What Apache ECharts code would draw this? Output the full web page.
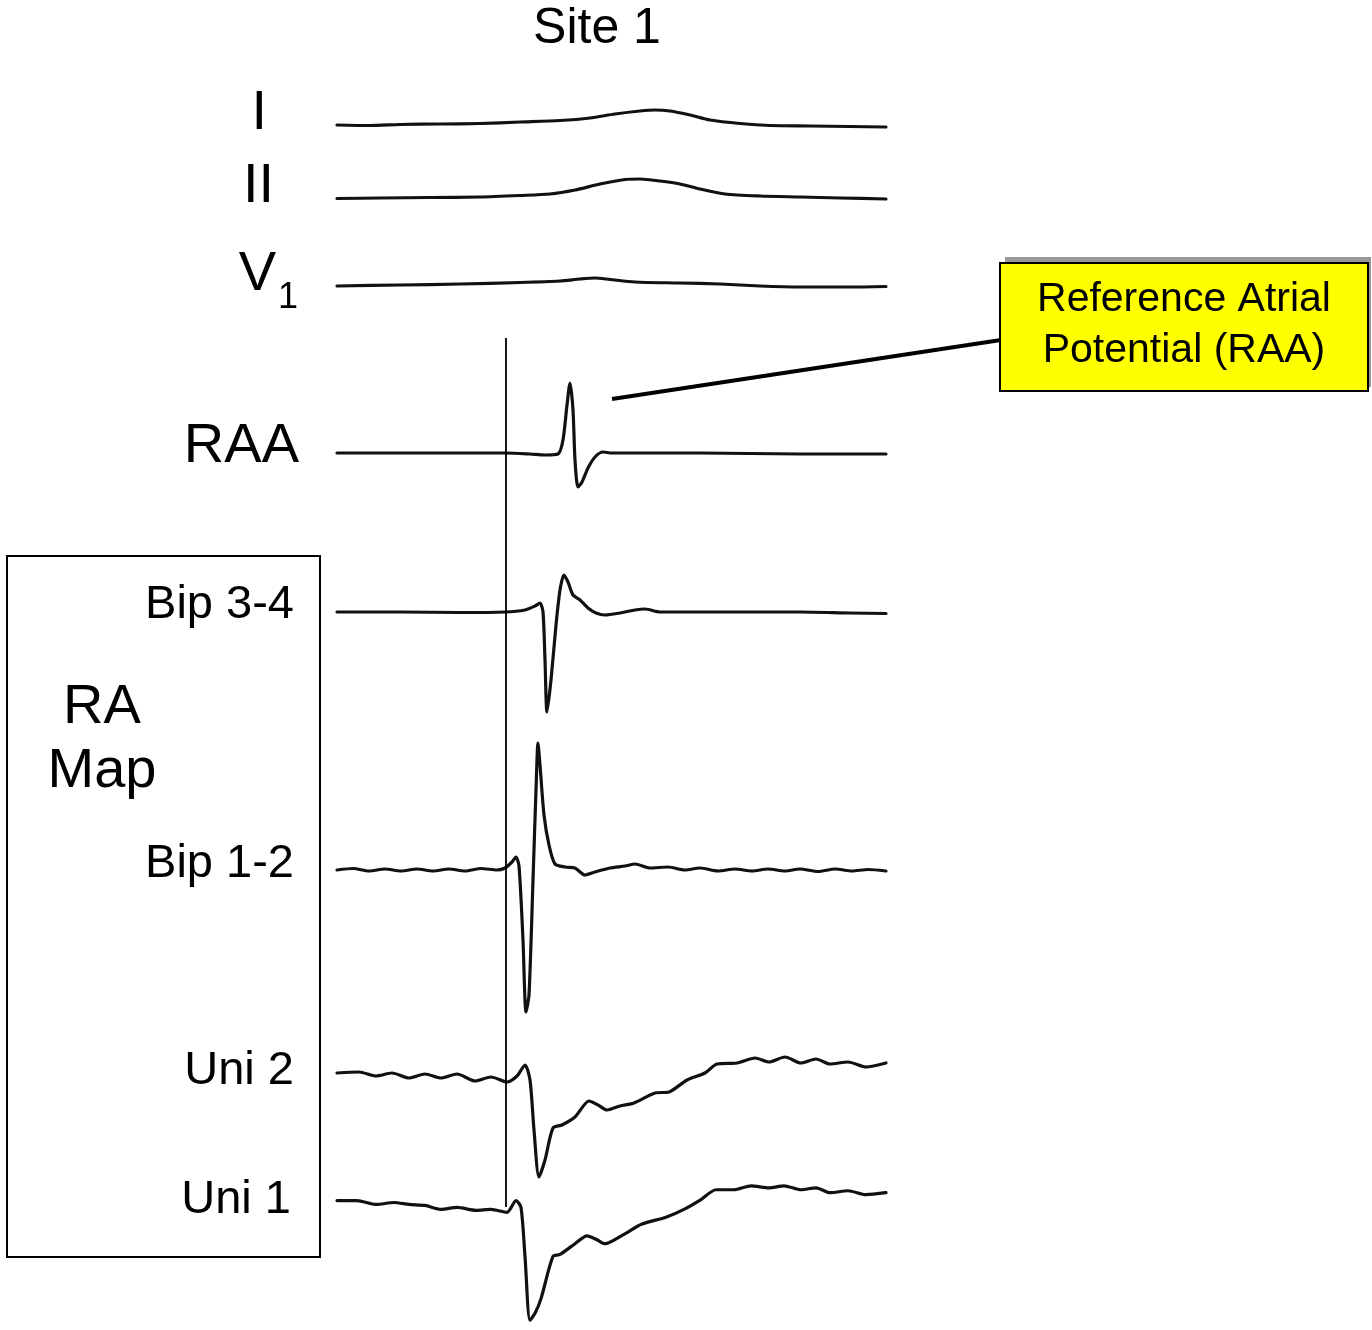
<!DOCTYPE html>
<html lang="en">
<head>
    <meta charset="utf-8">
    <title>Site 1</title>
    <script src="https://cdn.jsdelivr.net/npm/echarts@6/dist/echarts.min.js"></script>
    <style>
        body { margin: 0; background: #fff; }
        #chart { width: 1372px; height: 1330px; }
    </style>
</head>
<body>
<div id="chart"></div>
<script type="text/javascript">
    // traces: [time, amplitude] (amplitude up = positive)
    const leadI = [[0,0],[33,-0.5],[63,0.5],[103,1],[143,1.5],[183,3],[223,4.5],[253,7],[278,11],[303,14],[318,15],[333,14],[353,10],[373,5],[403,1.5],[433,-0.5],[473,-1],[513,-1.5],[549,-2]];
    const leadII = [[0,-0.5],[43,0],[93,0.5],[143,1],[183,2.5],[213,4],[238,8],[263,14],[288,18.5],[303,19],[323,17],[343,14],[363,9],[388,4],[423,2],[463,1],[503,0],[549,-1]];
    const leadV1 = [[0,0],[63,1],[123,2],[183,3.5],[223,5],[243,7],[258,8],[273,6.5],[298,4],[343,3],[383,2],[423,0],[463,-1],[513,-1],[549,-0.5]];
    const raa = [[0,0],[113,0],[169,0],[193,-1],[208,-2],[221,-1],[226,13],[230,48],[233,70],[236,43],[238,-7],[241,-34],[245,-29],[251,-15],[258,-4],[266,1],[275,0],[363,0],[463,-1],[549,-1]];
    const bip34 = [[0,0],[63,0],[123,-0.5],[168,0],[188,2],[198,6],[203,9],[206,0],[208,-48],[210,-100],[214,-68],[219,-13],[223,22],[227,37],[231,30],[236,17],[243,12],[251,4],[259,-1],[268,-3],[283,-1],[298,2],[308,3],[323,0],[383,0],[463,0],[513,-1],[549,-1.5]];
    const bip12 = [[0,0],[16,1.5],[32,-1],[48,1],[64,-1],[80,1],[96,-1],[112,1],[128,-1],[144,1.5],[160,0],[168,2],[175,8],[179,13],[182,4],[186,-70],[189,-142],[192,-125],[196,-10],[199,80],[201,127],[203,105],[207,55],[212,25],[218,6],[228,3],[238,2],[248,-5],[258,-2],[273,2],[288,4],[298,6],[313,2],[331,3],[348,0],[363,2],[381,-1],[398,1],[415,-1],[431,1],[448,-1],[463,1],[481,-1.5],[498,1],[515,-1],[531,0.5],[549,-1]];
    const uni2 = [[0,0],[22,1],[39,-3],[55,0],[72,-5],[88,-1],[104,-5],[120,-1],[138,-8],[154,-4],[170,-9],[180,-3],[188,8],[193,-7],[197,-57],[202,-104],[208,-87],[216,-55],[225,-52],[238,-44],[252,-28],[261,-32],[270,-37],[283,-33],[297,-30],[318,-20],[332,-19],[350,-7],[368,0],[380,9],[400,10],[418,15],[432,11],[448,16],[464,10],[479,14],[493,9],[511,11],[529,6],[549,10]];
    const uni1 = [[0,2],[20,2],[39,-2],[57,0],[72,-2],[88,-3],[104,-7],[120,-5],[139,-8],[154,-7],[170,-10],[179,2],[184,-5],[188,-55],[193,-120],[198,-113],[204,-98],[216,-55],[223,-53],[238,-42],[250,-34],[260,-38],[268,-42],[286,-33],[305,-22],[329,-15],[347,-7],[364,3],[379,13],[397,13],[414,17],[432,15],[447,17],[464,13],[479,15],[493,10],[511,12],[529,8],[549,10]];

    const traces = [leadI, leadII, leadV1, raa, bip34, bip12, uni2, uni1];
    const traceNames = ['I', 'II', 'V', 'RAA', 'Bip 3-4', 'Bip 1-2', 'Uni 2', 'Uni 1'];
    const refTime = 169;   // vertical reference line
    const timeMax = 549;

    // layout: baseline row and half height of each strip
    const baseY = [125, 198, 286, 453, 612, 870, 1073, 1205];
    const halfH = [25, 25, 20, 80, 110, 150, 115, 130];
    const labelPos = [[267, 114, 56], [274, 187, 56], [276, 275, 56], [299, 447, 56],
        [294, 605, 47], [294, 864, 47], [294, 1071, 47], [291, 1200, 47]];

    const font = '"Liberation Sans", Arial, sans-serif';
    const chart = echarts.init(document.getElementById('chart'));

    const grids = [], xAxes = [], yAxes = [], series = [];
    traces.forEach(function (tr, i) {
        grids.push({left: 337, width: 549, top: baseY[i] - halfH[i], height: 2 * halfH[i]});
        xAxes.push({type: 'value', gridIndex: i, min: 0, max: timeMax, show: false});
        yAxes.push({type: 'value', gridIndex: i, min: -halfH[i], max: halfH[i], show: false});
        series.push({
            type: 'line', xAxisIndex: i, yAxisIndex: i, data: tr,
            showSymbol: false, smooth: 0.25, clip: false,
            lineStyle: {color: '#111', width: 3.2, join: 'round', cap: 'round'}, silent: true
        });
    });

    // strip for the vertical reference line
    const k = traces.length;
    grids.push({left: 337, width: 549, top: 338, height: 869});
    xAxes.push({type: 'value', gridIndex: k, min: 0, max: timeMax, show: false});
    yAxes.push({type: 'value', gridIndex: k, min: 0, max: 1, show: false});
    series.push({
        type: 'line', xAxisIndex: k, yAxisIndex: k, data: [],
        markLine: {
            silent: true, symbol: 'none', label: {show: false},
            lineStyle: {color: '#000', width: 1.8, type: 'solid'},
            data: [{xAxis: refTime}]
        }
    });

    const graphics = [];
    traceNames.forEach(function (n, i) {
        graphics.push({
            type: 'text', x: labelPos[i][0], y: labelPos[i][1],
            style: {text: n, font: labelPos[i][2] + 'px ' + font, fill: '#000',
                textAlign: 'right', textVerticalAlign: 'middle'}
        });
    });
    // subscript of V1
    graphics.push({type: 'text', x: 278, y: 298,
        style: {text: '1', font: '36px ' + font, fill: '#000', textAlign: 'left', textVerticalAlign: 'middle'}});
    graphics.push({type: 'text', x: 597, y: 29,
        style: {text: 'Site 1', font: '50px ' + font, fill: '#000', textAlign: 'center', textVerticalAlign: 'middle'}});
    // RA Map box
    graphics.push({type: 'rect', shape: {x: 7, y: 556, width: 313, height: 701},
        style: {fill: 'none', stroke: '#000', lineWidth: 2}});
    graphics.push({type: 'text', x: 102, y: 708,
        style: {text: 'RA', font: '56px ' + font, fill: '#000', textAlign: 'center', textVerticalAlign: 'middle'}});
    graphics.push({type: 'text', x: 102, y: 772,
        style: {text: 'Map', font: '56px ' + font, fill: '#000', textAlign: 'center', textVerticalAlign: 'middle'}});
    // callout
    graphics.push({type: 'line', shape: {x1: 612, y1: 399, x2: 1001, y2: 340},
        style: {stroke: '#000', lineWidth: 4}});
    graphics.push({type: 'rect', shape: {x: 1005, y: 257, width: 366, height: 130},
        style: {fill: '#999', stroke: 'none'}});
    graphics.push({type: 'rect', shape: {x: 1000, y: 263, width: 368, height: 128},
        style: {fill: '#ffff00', stroke: '#000', lineWidth: 2}});
    graphics.push({type: 'text', x: 1184, y: 300,
        style: {text: 'Reference Atrial', font: '41px ' + font, fill: '#000', textAlign: 'center', textVerticalAlign: 'middle'}});
    graphics.push({type: 'text', x: 1184, y: 351,
        style: {text: 'Potential (RAA)', font: '41px ' + font, fill: '#000', textAlign: 'center', textVerticalAlign: 'middle'}});

    chart.setOption({
        animation: false,
        backgroundColor: '#fff',
        grid: grids,
        xAxis: xAxes,
        yAxis: yAxes,
        series: series,
        graphic: graphics
    });
</script>
</body>
</html>
